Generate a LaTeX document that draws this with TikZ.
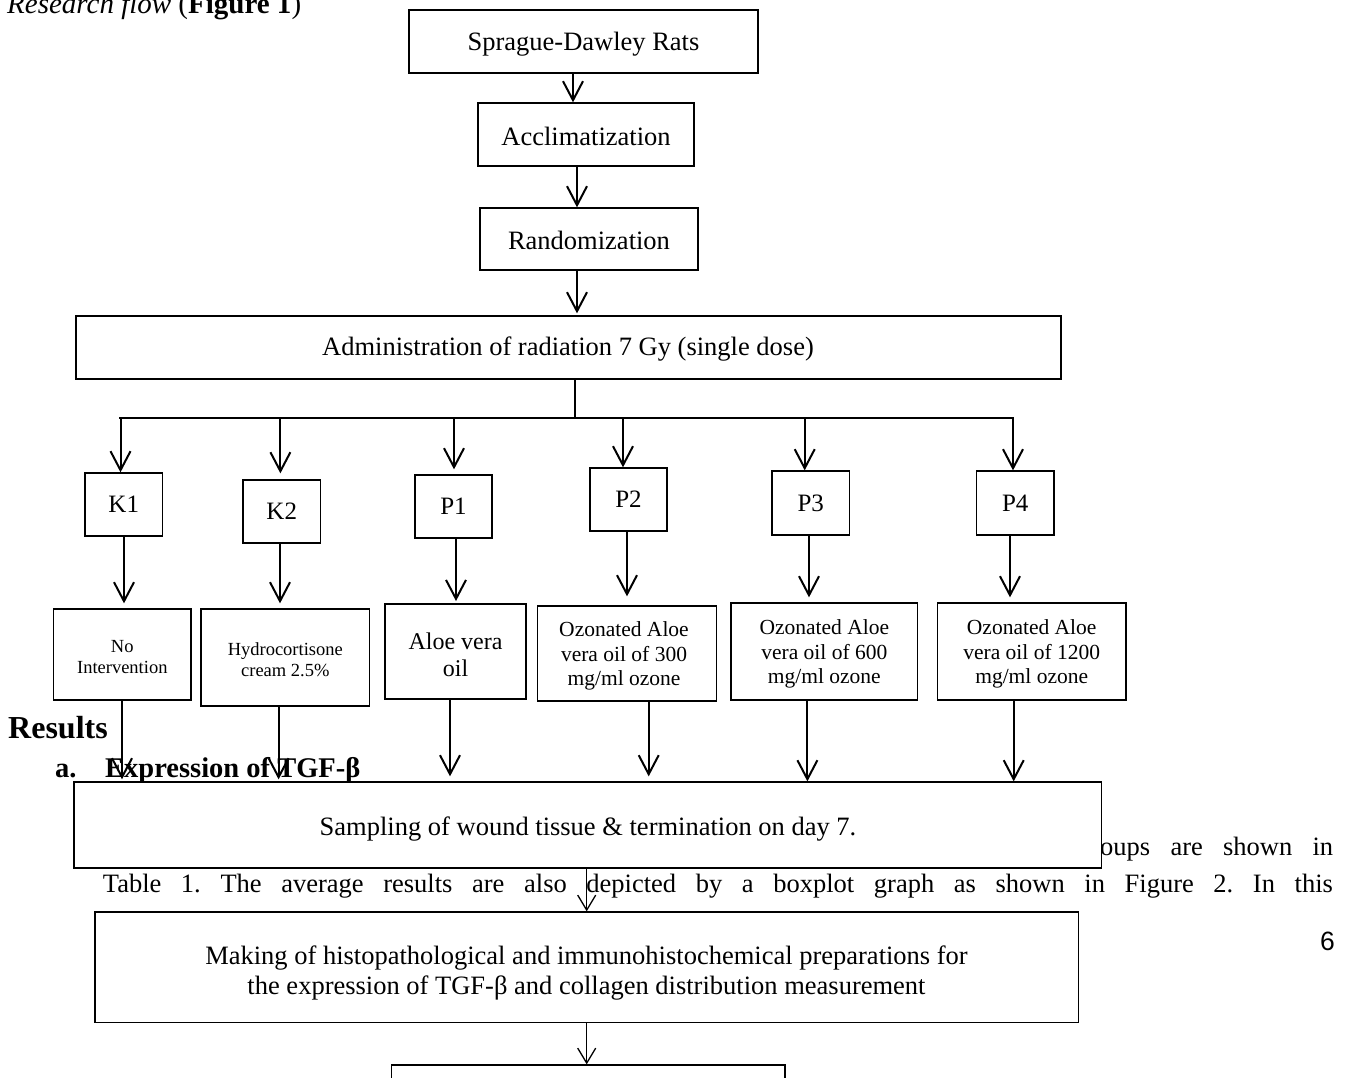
\documentclass[tikz,border=0pt]{standalone}
\usepackage{fontspec}
\setmainfont{Liberation Serif}
\newfontfamily\sansf{Liberation Sans}
\usetikzlibrary{arrows.meta}
\frenchspacing
\begin{document}
\begin{tikzpicture}[x=1pt,y=-1pt,
  font=\fontsize{26.5}{31}\selectfont,
  box/.style={draw, line width=1.3pt, fill=white, inner sep=0pt, align=center},
  arr/.style={line width=2pt, -{Straight Barb[length=19pt,width=20pt]}},
  thinarr/.style={line width=1.3pt, -{Straight Barb[length=15pt,width=18pt]}},
  txt/.style={inner sep=0pt, anchor=base west},
  lbl/.style={inner sep=0pt, align=center},
  small/.style={font=\fontsize{18.5}{20.5}\selectfont},
  mid/.style={font=\fontsize{24}{27}\selectfont},
  oz/.style={font=\fontsize{21.5}{24.2}\selectfont},
  klab/.style={font=\fontsize{25}{29}\selectfont}
]
\useasboundingbox (0,0) rectangle (1353,1078);
\clip (0,0) rectangle (1353,1078);

% page text behind the chart
\node[txt, font=\fontsize{29}{34}\selectfont] (title) at (7,13.3) {\textit{Research flow} (\textbf{Figure 1})};
\node[txt, font=\bfseries\fontsize{32}{38}\selectfont] (res) at (8,738.3) {Results};
\node[txt, font=\bfseries\fontsize{28.5}{33}\selectfont] (ea) at (55,777) {a.};
\node[txt, font=\bfseries\fontsize{28.5}{33}\selectfont] (eb) at (105,777) {Expression of TGF-β};
\node[txt] (oups) at (1100,855) {\makebox[233pt][s]{oups are shown in}};
\node[txt] (tbl) at (102.7,892) {\makebox[1230pt][s]{Table 1. The average results are also depicted by a boxplot graph as shown in Figure 2. In this}};
\node[inner sep=0pt, anchor=base, font=\sansf\fontsize{26.5}{31}\selectfont] (pg) at (1327.5,950) {6};

% boxes
\node[box, minimum width=349pt, minimum height=63pt] (SD) at (583.5,41.5) {};
\node[lbl] (SDt) at (583.5,44) {Sprague-Dawley Rats};
\node[box, minimum width=216pt, minimum height=63pt] (AC) at (586,134.5) {};
\node[lbl] (ACt) at (586,136) {Acclimatization};
\node[box, minimum width=218pt, minimum height=62pt] (RA) at (589,239) {};
\node[lbl] (RAt) at (589,240.5) {Randomization};
\node[box, minimum width=985pt, minimum height=63pt] (AD) at (568.5,347.5) {};
\node[lbl] (ADt) at (568,349) {Administration of radiation 7 Gy (single dose)};

\node[box, klab, minimum width=77.5pt, minimum height=63pt] (K1) at (123.75,504.5) {K1};
\node[box, klab, minimum width=77.5pt, minimum height=63pt] (K2) at (281.75,511.5) {K2};
\node[box, klab, minimum width=77pt, minimum height=63pt] (P1) at (453.5,506.5) {P1};
\node[box, klab, minimum width=77pt, minimum height=63pt] (P2) at (628.5,499.5) {P2};
\node[box, klab, minimum width=77.5pt, minimum height=64pt] (P3) at (810.75,503) {P3};
\node[box, klab, minimum width=77.5pt, minimum height=64pt] (P4) at (1015.25,503) {P4};

\node[box, small, minimum width=137.4pt, minimum height=91pt] (T1) at (122.3,654.5) {};
\node[lbl, small] (T1t) at (122.3,657) {No\\Intervention};
\node[box, small, minimum width=168.6pt, minimum height=97pt] (T2) at (285.3,657.5) {};
\node[lbl, small] (T2t) at (285.3,659.5) {Hydrocortisone\\cream 2.5\%};
\node[box, mid, minimum width=141pt, minimum height=95pt] (T3) at (455.5,651.5) {};
\node[lbl, mid] (T3t) at (455.5,655) {Aloe vera\\oil};
\node[box, oz, minimum width=179pt, minimum height=95pt] (T4) at (627,653.5) {};
\node[lbl, oz] (T4t) at (624,656) {Ozonated Aloe\\vera oil of 300\\mg/ml ozone};
\node[box, oz, minimum width=186.7pt, minimum height=97pt] (T5) at (824.35,651.5) {};
\node[lbl, oz] (T5t) at (824.35,654) {Ozonated Aloe\\vera oil of 600\\mg/ml ozone};
\node[box, oz, minimum width=188.6pt, minimum height=97pt] (T6) at (1031.7,651.5) {};
\node[lbl, oz] (T6t) at (1031.7,654) {Ozonated Aloe\\vera oil of 1200\\mg/ml ozone};

\node[box, minimum width=1027.7pt, minimum height=86pt] (SA) at (587.85,825) {};
\node[lbl] (SAt) at (588,829) {Sampling of wound tissue \& termination on day 7.};
\node[box, minimum width=983.5pt, minimum height=110.7pt] (MK) at (586.75,967.35) {};
\node[lbl, font=\fontsize{26.5}{30}\selectfont] (MKt) at (586.5,973.5) {Making of histopathological and immunohistochemical preparations for\\the expression of TGF-β and collagen distribution measurement};
\node[box, minimum width=393.3pt, minimum height=50pt] (BT) at (588.35,1090) {};

% top chain
\draw[arr] (573,0 |- SD.south) -- (573,0 |- AC.north);
\draw[arr] (577,0 |- AC.south) -- (577,0 |- RA.north);
\draw[arr, shorten >=2pt] (577,0 |- RA.south) -- (577,0 |- AD.north);

% distribution bar
\coordinate (barC) at (575,418);
\coordinate (barL) at (120.5,418);
\coordinate (barR) at (1013,418);
\draw[line width=1.5pt] (575,0 |- AD.south) -- (barC);
\draw[line width=2.5pt, line cap=rect] (barL) -- (barR);
\draw[arr] (barL) -- (barL |- K1.north);
\draw[arr, shorten >=6pt] (280.4,418) -- (280.4,0 |- K2.north);
\draw[arr, shorten >=5pt] (454,418) -- (454,0 |- P1.north);
\draw[arr] (623,418) -- (623,0 |- P2.north);
\draw[arr] (804.7,418) -- (804.7,0 |- P3.north);
\draw[arr] (barR) -- (barR |- P4.north);

% group to treatment
\draw[arr, shorten >=5pt] (124,0 |- K1.south) -- (124,0 |- T1.north);
\draw[arr, shorten >=5pt] (280,0 |- K2.south) -- (280,0 |- T2.north);
\draw[arr, shorten >=2.3pt] (456,0 |- P1.south) -- (456,0 |- T3.north);
\draw[arr, shorten >=9pt] (627,0 |- P2.south) -- (627,0 |- T4.north);
\draw[arr, shorten >=5pt] (809,0 |- P3.south) -- (809,0 |- T5.north);
\draw[arr, shorten >=5pt] (1010,0 |- P4.south) -- (1010,0 |- T6.north);

% treatment to sampling
\draw[arr, shorten >=2pt] (122,0 |- T1.south) -- (122,0 |- SA.north);
\draw[arr, shorten >=2pt] (278.6,0 |- T2.south) -- (278.6,0 |- SA.north);
\draw[arr, shorten >=5pt] (450,0 |- T3.south) -- (450,0 |- SA.north);
\draw[arr, shorten >=5pt] (648.7,0 |- T4.south) -- (648.7,0 |- SA.north);
\draw[arr] (807.4,0 |- T5.south) -- (807.4,0 |- SA.north);
\draw[arr] (1013.7,0 |- T6.south) -- (1013.7,0 |- SA.north);

% lower chain
\draw[thinarr] (586.7,0 |- SA.south) -- (586.7,0 |- MK.north);
\draw[thinarr] (586.7,0 |- MK.south) -- (586.7,0 |- BT.north);
\end{tikzpicture}
\end{document}
